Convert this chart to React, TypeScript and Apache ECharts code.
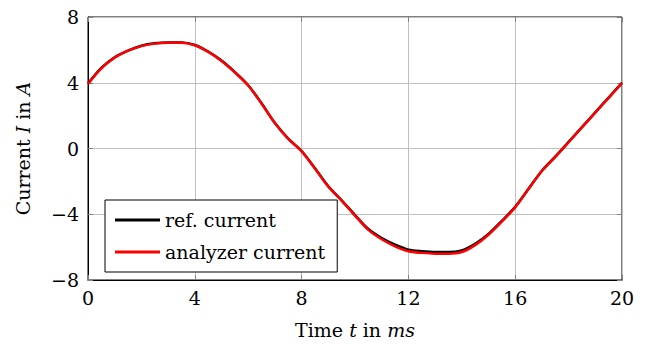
import React, { useEffect, useRef } from "react";
import * as echarts from "echarts";

const timeMs = [0, 0.5, 1, 1.5, 2, 2.5, 3, 3.5, 4, 4.5, 5, 5.5, 6, 6.5, 7, 7.5, 8, 8.5, 9, 9.5, 10, 10.5, 11, 11.5, 12, 12.5, 13, 13.5, 14, 14.5, 15, 15.5, 16, 16.5, 17, 17.5, 18, 18.5, 19, 19.5, 20];
const refCurrent = [3.95, 4.9, 5.55, 5.95, 6.25, 6.4, 6.45, 6.45, 6.3, 5.9, 5.35, 4.65, 3.85, 2.75, 1.55, 0.6, -0.15, -1.2, -2.3, -3.15, -4.05, -4.9, -5.45, -5.85, -6.15, -6.25, -6.3, -6.3, -6.2, -5.8, -5.2, -4.4, -3.55, -2.45, -1.35, -0.5, 0.4, 1.3, 2.2, 3.1, 4.0];
const analyzerCurrent = [3.93, 4.88, 5.53, 5.95, 6.23, 6.38, 6.43, 6.43, 6.28, 5.88, 5.33, 4.63, 3.83, 2.73, 1.55, 0.58, -0.17, -1.22, -2.32, -3.17, -4.08, -4.95, -5.52, -5.95, -6.25, -6.35, -6.4, -6.4, -6.3, -5.88, -5.25, -4.45, -3.58, -2.47, -1.37, -0.52, 0.38, 1.28, 2.18, 3.08, 3.98];
const xTicks = { min: 0, max: 20, interval: 4 };
const yTicks = { min: -8, max: 8, interval: 4 };

const FONT = "DejaVu Serif";
const FS = 19;

export default function App() {
  const ref = useRef<HTMLDivElement>(null);
  useEffect(() => {
    if (!ref.current) return;
    const chart = echarts.init(ref.current, null, { renderer: "svg" });
    const fmt = (v: number) => (v < 0 ? "\u2212" + Math.abs(v) : String(v));
    const tickStyle = { show: true, inside: true, length: 5, lineStyle: { color: "#808080", width: 1 } };
    const gridStyle = { show: true, lineStyle: { color: "#c0c0c0", width: 1 } };
    const rich = {
      n: { fontFamily: FONT, fontSize: FS, color: "#000" },
      i: { fontFamily: FONT, fontSize: FS, color: "#000", fontStyle: "italic" },
    };
    chart.setOption({
      animation: false,
      textStyle: { fontFamily: FONT },
      grid: { left: 88, right: 25, top: 17, bottom: 63, show: true, borderColor: "#000", borderWidth: 1, backgroundColor: "transparent" },
      legend: {
        orient: "vertical",
        left: 105,
        top: 200,
        padding: [10, 12, 10, 10],
        itemGap: 12,
        itemWidth: 45,
        itemHeight: 3,
        icon: "rect",
        backgroundColor: "#fff",
        borderColor: "#000",
        borderWidth: 1,
        borderRadius: 0,
        textStyle: { fontFamily: FONT, fontSize: FS, color: "#000", lineHeight: 20 },
        data: ["ref. current", "analyzer current"],
      },
      xAxis: [
        {
          type: "value",
          min: xTicks.min,
          max: xTicks.max,
          interval: xTicks.interval,
          position: "bottom",
          axisLine: { show: true, onZero: false, lineStyle: { color: "#000", width: 1 } },
          axisTick: tickStyle,
          splitLine: gridStyle,
          axisLabel: { color: "#000", fontFamily: FONT, fontSize: FS, margin: 8, formatter: fmt },
          name: "{n|Time }{i|t}{n| in }{i|ms}",
          nameLocation: "middle",
          nameGap: 40,
          nameTextStyle: { rich },
        },
        {
          type: "value",
          min: xTicks.min,
          max: xTicks.max,
          interval: xTicks.interval,
          position: "top",
          axisLine: { show: false, onZero: false },
          axisTick: tickStyle,
          splitLine: { show: false },
          axisLabel: { show: false },
        },
      ],
      yAxis: [
        {
          type: "value",
          min: yTicks.min,
          max: yTicks.max,
          interval: yTicks.interval,
          position: "left",
          axisLine: { show: true, onZero: false, lineStyle: { color: "#000", width: 1 } },
          axisTick: tickStyle,
          splitLine: gridStyle,
          axisLabel: { color: "#000", fontFamily: FONT, fontSize: FS, margin: 9, formatter: fmt },
          name: "{n|Current }{i|I}{n| in }{i|A}",
          nameLocation: "middle",
          nameGap: 56,
          nameRotate: 90,
          nameTextStyle: { rich },
        },
        {
          type: "value",
          min: yTicks.min,
          max: yTicks.max,
          interval: yTicks.interval,
          position: "right",
          axisLine: { show: false, onZero: false },
          axisTick: tickStyle,
          splitLine: { show: false },
          axisLabel: { show: false },
        },
      ],
      series: [
        {
          name: "ref. current",
          type: "line",
          data: timeMs.map((t, i) => [t, refCurrent[i]]),
          smooth: 0.3,
          showSymbol: false,
          lineStyle: { color: "#000", width: 2.5 },
          itemStyle: { color: "#000" },
        },
        {
          name: "analyzer current",
          type: "line",
          data: timeMs.map((t, i) => [t, analyzerCurrent[i]]),
          smooth: 0.3,
          showSymbol: false,
          lineStyle: { color: "#ff0000", width: 2.5 },
          itemStyle: { color: "#ff0000" },
        },
      ],
    });
    return () => chart.dispose();
  }, []);
  return <div ref={ref} style={{ width: 647, height: 344, position: "absolute", left: 0, top: 0 }} />;
}
